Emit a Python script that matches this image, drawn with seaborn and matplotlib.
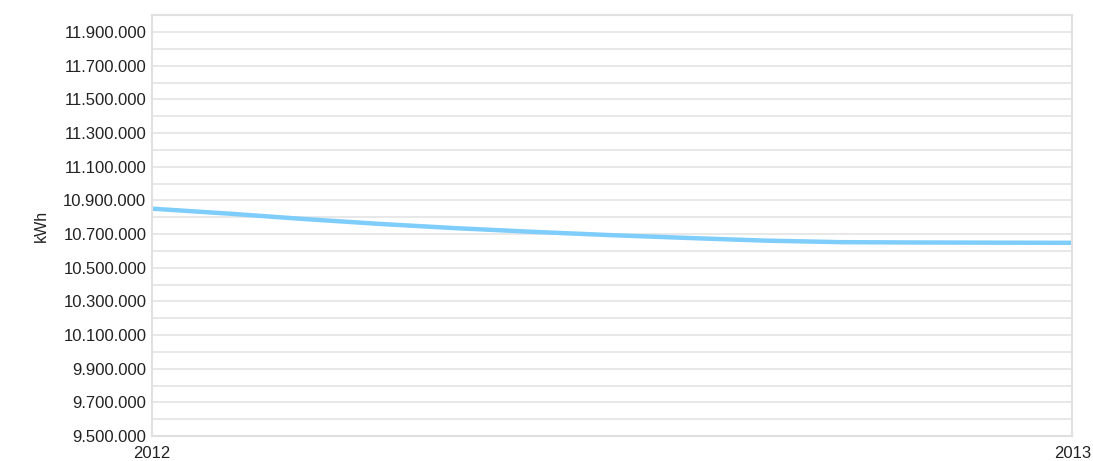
import pandas as pd
import matplotlib.pyplot as plt
import matplotlib.ticker as mticker
import seaborn as sns

months = pd.date_range("2012-01-01", "2013-01-01", freq="MS")
kwh = [10851000, 10821000, 10790000, 10760000, 10735000, 10713000, 10694000,
       10677000, 10661000, 10652000, 10650000, 10649000, 10648000]
ytick_values = list(range(9500000, 12000001, 200000))
xtick_labels = ["2012", "2013"]

df = pd.DataFrame({"month": months, "kwh": kwh})

sns.set_style("white")
plt.rcParams["font.family"] = ["Liberation Sans", "DejaVu Sans"]

fig = plt.figure(figsize=(10.93, 4.61), dpi=100)
ax = fig.add_axes([0.139, 0.054, 0.842, 0.913])

sns.lineplot(data=df, x="month", y="kwh", ax=ax, color="#7ecdfb", linewidth=3.2)

ax.set_xlim(months[0], months[-1])
ax.set_ylim(9500000, 12000000)
ax.set_yticks(ytick_values)
ax.yaxis.set_minor_locator(mticker.MultipleLocator(100000))
ax.yaxis.set_major_formatter(mticker.FuncFormatter(lambda v, p: f"{int(v):,}".replace(",", ".")))
ax.set_xticks([months[0], months[-1]])
ax.set_xticklabels(xtick_labels)

ax.grid(True, which="both", axis="y", color="#e4e4e4", linewidth=1.2)
ax.set_axisbelow(True)
for s in ax.spines.values():
    s.set_color("#e0e0e0")
    s.set_linewidth(1.5)

ax.tick_params(axis="both", length=0, labelsize=12, colors="#222222")
ax.tick_params(axis="x", pad=7)
ax.tick_params(axis="y", pad=4)
ax.set_xlabel("")
ax.set_ylabel("kWh", fontsize=11.5, color="#222222", labelpad=10)

fig.savefig("out.png", dpi=100)
